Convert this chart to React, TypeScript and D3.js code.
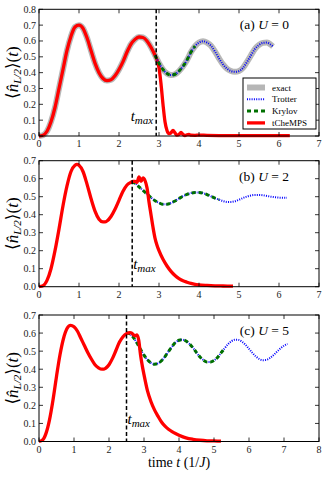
import React from 'react';
import * as d3 from 'd3';

type Pt = [number, number];

// panel (a) U = 0
const exactA: Pt[] = [
  [0, 0], [0.1, 0.005], [0.2, 0.03], [0.3, 0.09], [0.4, 0.18], [0.5, 0.3], [0.6, 0.42], [0.7, 0.54],
  [0.8, 0.63], [0.9, 0.688], [1.0, 0.7], [1.1, 0.68], [1.2, 0.62], [1.3, 0.54], [1.4, 0.46], [1.5, 0.4],
  [1.6, 0.363], [1.7, 0.35], [1.8, 0.355], [1.9, 0.38], [2.0, 0.42], [2.1, 0.47], [2.2, 0.53], [2.3, 0.58],
  [2.4, 0.61], [2.5, 0.625], [2.6, 0.622], [2.7, 0.6], [2.8, 0.56], [2.9, 0.51], [3.0, 0.46], [3.1, 0.42],
  [3.2, 0.395], [3.3, 0.385], [3.4, 0.39], [3.5, 0.41], [3.6, 0.44], [3.7, 0.48], [3.8, 0.53], [3.9, 0.567],
  [4.0, 0.59], [4.1, 0.598], [4.2, 0.59], [4.3, 0.57], [4.4, 0.533], [4.5, 0.49], [4.6, 0.452], [4.7, 0.425],
  [4.8, 0.41], [4.9, 0.405], [5.0, 0.41], [5.1, 0.43], [5.2, 0.468], [5.3, 0.51], [5.4, 0.55], [5.5, 0.575],
  [5.6, 0.588], [5.7, 0.59], [5.8, 0.575], [5.85, 0.565],
];
const tchempsTailA: Pt[] = [
  [2.95, 0.48], [3.0, 0.43], [3.05, 0.33], [3.1, 0.2], [3.15, 0.09], [3.2, 0.035], [3.25, 0.015], [3.3, 0.02],
  [3.35, 0.035], [3.4, 0.02], [3.45, 0.005], [3.5, 0.01], [3.55, 0.022], [3.6, 0.01], [3.65, 0.003], [3.7, 0.008],
  [3.75, 0.01], [3.8, 0.005], [3.9, 0.004], [4.0, 0.006], [4.2, 0.004], [4.5, 0.003], [5.0, 0.003], [5.5, 0.002],
  [6.0, 0.002], [6.27, 0.002],
];
const tmaxA = 2.93;
const krylovEndA = 3.95;

// panel (b) U = 2
const tchempsB: Pt[] = [
  [0, 0], [0.1, 0.005], [0.2, 0.035], [0.3, 0.1], [0.4, 0.2], [0.5, 0.32], [0.6, 0.45], [0.7, 0.56],
  [0.8, 0.64], [0.9, 0.675], [0.95, 0.68], [1.0, 0.675], [1.1, 0.64], [1.2, 0.57], [1.3, 0.49], [1.4, 0.42],
  [1.5, 0.375], [1.6, 0.36], [1.65, 0.36], [1.7, 0.365], [1.8, 0.39], [1.9, 0.43], [2.0, 0.48], [2.1, 0.53],
  [2.2, 0.565], [2.3, 0.58], [2.35, 0.585], [2.4, 0.585], [2.45, 0.58], [2.5, 0.61], [2.55, 0.585], [2.6, 0.605],
  [2.65, 0.59], [2.7, 0.55], [2.75, 0.47], [2.8, 0.4], [2.85, 0.33], [2.9, 0.27], [2.95, 0.23], [3.0, 0.2],
  [3.1, 0.152], [3.2, 0.115], [3.3, 0.085], [3.4, 0.062], [3.5, 0.045], [3.6, 0.033], [3.7, 0.025], [3.8, 0.018],
  [3.9, 0.013], [4.0, 0.01], [4.2, 0.007], [4.4, 0.005], [4.6, 0.004], [4.85, 0.003],
];
const krylovB: Pt[] = [
  [2.33, 0.585], [2.4, 0.575], [2.5, 0.555], [2.6, 0.535], [2.7, 0.515], [2.8, 0.495], [2.9, 0.478], [3.0, 0.466],
  [3.1, 0.458], [3.2, 0.458], [3.3, 0.465], [3.4, 0.476], [3.5, 0.49], [3.6, 0.503], [3.7, 0.513], [3.8, 0.52],
  [3.9, 0.524], [4.0, 0.524], [4.1, 0.52], [4.2, 0.512], [4.3, 0.502], [4.4, 0.492], [4.5, 0.484],
];
const trotterTailB: Pt[] = [
  [4.6, 0.476], [4.7, 0.471], [4.8, 0.471], [4.9, 0.475], [5.0, 0.483], [5.1, 0.493], [5.2, 0.501], [5.3, 0.507],
  [5.4, 0.51], [5.5, 0.51], [5.6, 0.508], [5.7, 0.504], [5.8, 0.5], [5.9, 0.497], [6.0, 0.495], [6.2, 0.494],
];
const tmaxB = 2.33;

// panel (c) U = 5
const tchempsC: Pt[] = [
  [0, 0], [0.1, 0.008], [0.2, 0.045], [0.3, 0.12], [0.4, 0.23], [0.5, 0.36], [0.6, 0.48], [0.7, 0.57],
  [0.8, 0.625], [0.9, 0.643], [1.0, 0.635], [1.1, 0.61], [1.2, 0.57], [1.3, 0.53], [1.4, 0.49], [1.5, 0.455],
  [1.6, 0.425], [1.7, 0.408], [1.8, 0.4], [1.85, 0.4], [1.9, 0.405], [2.0, 0.425], [2.1, 0.46], [2.2, 0.505],
  [2.3, 0.55], [2.4, 0.58], [2.5, 0.597], [2.6, 0.603], [2.65, 0.6], [2.7, 0.59], [2.75, 0.585], [2.8, 0.59],
  [2.85, 0.56], [2.9, 0.48], [2.95, 0.42], [3.0, 0.37], [3.1, 0.28], [3.2, 0.22], [3.3, 0.175], [3.4, 0.14],
  [3.5, 0.108], [3.6, 0.085], [3.7, 0.068], [3.8, 0.055], [3.9, 0.044], [4.0, 0.035], [4.2, 0.02], [4.4, 0.012],
  [4.6, 0.007], [4.8, 0.004], [5.0, 0.003], [5.2, 0.002],
];
const krylovC: Pt[] = [
  [2.5, 0.6], [2.6, 0.595], [2.7, 0.575], [2.8, 0.545], [2.9, 0.51], [3.0, 0.478], [3.1, 0.452], [3.2, 0.435],
  [3.3, 0.428], [3.4, 0.432], [3.5, 0.447], [3.6, 0.47], [3.7, 0.498], [3.8, 0.525], [3.9, 0.548], [4.0, 0.56],
  [4.1, 0.563], [4.2, 0.556], [4.3, 0.54], [4.4, 0.518], [4.5, 0.492], [4.6, 0.468], [4.7, 0.45], [4.8, 0.44],
  [4.9, 0.44], [5.0, 0.448], [5.1, 0.465], [5.2, 0.49], [5.3, 0.515],
];
const trotterTailC: Pt[] = [
  [5.4, 0.538], [5.5, 0.555], [5.6, 0.563], [5.7, 0.562], [5.8, 0.552], [5.9, 0.535], [6.0, 0.513], [6.1, 0.49],
  [6.2, 0.47], [6.3, 0.456], [6.4, 0.45], [6.5, 0.452], [6.6, 0.462], [6.7, 0.478], [6.8, 0.497], [6.9, 0.515],
  [7.0, 0.53], [7.1, 0.54],
];
const tmaxC = 2.5;

const legendItems = ['exact', 'Trotter', 'Krylov', 'tCheMPS'];

const RED = '#ff0000';
const BLUE = '#0000ff';
const GREEN = '#007000';
const GREY = '#aaaaaa';
const FONT = 'Liberation Serif, DejaVu Serif, serif';

const styles: Record<string, any> = {
  exact: { stroke: GREY, strokeWidth: 6, opacity: 0.85 },
  Trotter: { stroke: BLUE, strokeWidth: 2, dash: '1,1.3' },
  Krylov: { stroke: GREEN, strokeWidth: 3, dash: '4,3' },
  tCheMPS: { stroke: RED, strokeWidth: 3.3 },
};

interface Series { name: string; data: Pt[] }
interface PanelProps {
  top: number;
  height: number;
  xMax: number;
  yMax: number;
  series: Series[];
  tmax: number;
  labelLeft: boolean;
  letter: string;
  u: number;
  legend?: boolean;
  xlabel?: boolean;
}

const left = 39;
const right = 319;

function Panel(p: PanelProps) {
  const x = d3.scaleLinear().domain([0, p.xMax]).range([left, right]);
  const y = d3.scaleLinear().domain([0, p.yMax]).range([p.top + p.height, p.top]);
  const line = d3.line<Pt>().x(d => x(d[0])).y(d => y(d[1])).curve(d3.curveMonotoneX);
  const xt = d3.range(0, p.xMax + 1);
  const yt = d3.range(0, Math.round(p.yMax * 10) + 1).map(i => i / 10);
  const bottom = p.top + p.height;
  const tl = 4;
  const yMid = p.top + p.height / 2;
  return (
    <g>
      {p.series.map(s => {
        const st = styles[s.name];
        return (
          <path key={s.name} d={line(s.data) || ''} fill="none" stroke={st.stroke}
            strokeWidth={st.strokeWidth} strokeDasharray={st.dash} opacity={st.opacity}
            strokeLinejoin="round" />
        );
      })}
      <line x1={x(p.tmax)} x2={x(p.tmax)} y1={p.top} y2={bottom} stroke="#000" strokeWidth={1.5} strokeDasharray="4,2.5" />
      <text x={x(p.tmax) + (p.labelLeft ? -3 : 1)} y={y(0.12) + 4} textAnchor={p.labelLeft ? 'end' : 'start'}
        fontFamily={FONT} fontSize={15} fontStyle="italic">
        t<tspan fontSize={11} dy={3}>max</tspan>
      </text>
      <text x={289} y={p.top + 20} textAnchor="end" fontFamily={FONT} fontSize={13.5}>
        ({p.letter}) <tspan fontStyle="italic">U</tspan> = {p.u}
      </text>
      <rect x={left} y={p.top} width={right - left} height={p.height} fill="none" stroke="#000" strokeWidth={1} />
      {xt.map(v => (
        <g key={'x' + v}>
          <line x1={x(v)} x2={x(v)} y1={bottom} y2={bottom - tl} stroke="#000" strokeWidth={0.8} />
          <line x1={x(v)} x2={x(v)} y1={p.top} y2={p.top + tl} stroke="#000" strokeWidth={0.8} />
          <text x={x(v)} y={bottom + 11} textAnchor="middle" fontFamily={FONT} fontSize={10} fill="#222">{v}</text>
        </g>
      ))}
      {yt.map(v => (
        <g key={'y' + v}>
          <line x1={left} x2={left + tl} y1={y(v)} y2={y(v)} stroke="#000" strokeWidth={0.8} />
          <line x1={right} x2={right - tl} y1={y(v)} y2={y(v)} stroke="#000" strokeWidth={0.8} />
          <text x={left - 3} y={y(v) + 3.5} textAnchor="end" fontFamily={FONT} fontSize={10} fill="#222">{v.toFixed(1)}</text>
        </g>
      ))}
      <text transform={`translate(18,${yMid}) rotate(-90)`} textAnchor="middle" fontFamily={FONT} fontSize={17}>
        ⟨<tspan fontStyle="italic">n̂</tspan><tspan fontSize={11} dy={3} fontStyle="italic">L/2</tspan><tspan dy={-3}>⟩(</tspan><tspan fontStyle="italic">t</tspan>)
      </text>
      {p.legend && (
        <g>
          <rect x={243} y={78} width={73} height={51} fill="#fff" stroke="#000" strokeWidth={1} />
          {legendItems.map((name, i) => {
            const st = styles[name];
            const ly = 87.5 + i * 11.8;
            return (
              <g key={name}>
                <line x1={247} x2={265} y1={ly} y2={ly} stroke={st.stroke} strokeWidth={st.strokeWidth}
                  strokeDasharray={st.dash} opacity={st.opacity} />
                <text x={272} y={ly + 3} fontFamily={FONT} fontSize={9}>{name}</text>
              </g>
            );
          })}
        </g>
      )}
      {p.xlabel && (
        <text x={(left + right) / 2} y={467} textAnchor="middle" fontFamily={FONT} fontSize={14}>
          time <tspan fontStyle="italic">t</tspan> (1/<tspan fontStyle="italic">J</tspan>)
        </text>
      )}
    </g>
  );
}

export default function App() {
  const redA = exactA.filter(d => d[0] < tmaxA).concat(tchempsTailA);
  const trotterA = exactA.filter(d => d[0] >= tmaxA - 0.05);
  const krylovA = exactA.filter(d => d[0] >= tmaxA - 0.05 && d[0] <= krylovEndA);
  const trotterB = krylovB.concat(trotterTailB);
  const trotterC = krylovC.concat(trotterTailC);
  return (
    <svg width={326} height={477} style={{ position: 'absolute', left: 0, top: 0, background: '#fff' }}>
      <Panel top={9.3} height={126.7} xMax={7} yMax={0.8} tmax={tmaxA} labelLeft letter="a" u={0} legend
        series={[
          { name: 'exact', data: exactA },
          { name: 'tCheMPS', data: redA },
          { name: 'Trotter', data: trotterA },
          { name: 'Krylov', data: krylovA },
        ]} />
      <Panel top={160.7} height={126} xMax={7} yMax={0.7} tmax={tmaxB} labelLeft={false} letter="b" u={2}
        series={[
          { name: 'Trotter', data: trotterB },
          { name: 'Krylov', data: krylovB },
          { name: 'tCheMPS', data: tchempsB },
        ]} />
      <Panel top={315} height={126.5} xMax={8} yMax={0.7} tmax={tmaxC} labelLeft={false} letter="c" u={5} xlabel
        series={[
          { name: 'Trotter', data: trotterC },
          { name: 'Krylov', data: krylovC },
          { name: 'tCheMPS', data: tchempsC },
        ]} />
    </svg>
  );
}
